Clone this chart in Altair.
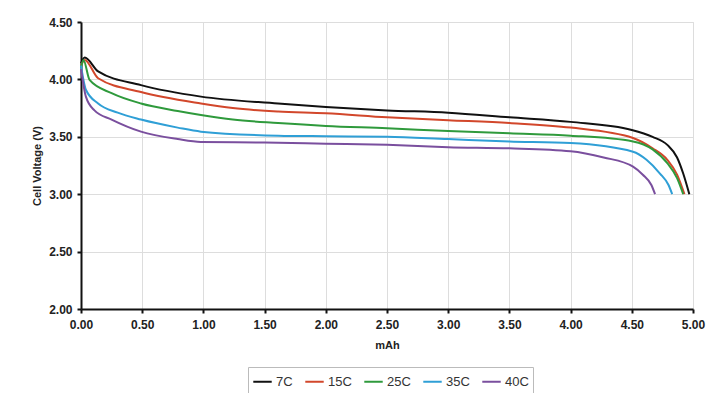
import altair as alt
import pandas as pd

series_names = ["7C", "15C", "25C", "35C", "40C"]
series_colors = ["#111111", "#d2472b", "#2f9a3c", "#2f9fd6", "#7a4f9e"]

x_7c = [0.00, 0.03, 0.14, 0.49, 0.98, 1.61, 2.00, 2.50, 3.00, 3.50, 4.00, 4.50, 4.67, 4.79, 4.87, 4.92, 4.97]
y_7c = [4.14, 4.19, 4.07, 3.95, 3.85, 3.79, 3.76, 3.73, 3.71, 3.67, 3.63, 3.56, 3.50, 3.43, 3.32, 3.18, 3.00]

x_15c = [0.00, 0.03, 0.14, 0.49, 0.98, 1.24, 1.61, 2.00, 2.50, 3.00, 3.50, 4.00, 4.51, 4.67, 4.79, 4.87, 4.93]
y_15c = [4.12, 4.17, 4.01, 3.89, 3.79, 3.75, 3.72, 3.705, 3.67, 3.645, 3.62, 3.58, 3.49, 3.40, 3.30, 3.17, 3.00]

x_25c = [0.00, 0.02, 0.07, 0.25, 0.49, 0.79, 0.98, 1.24, 1.61, 2.00, 2.50, 3.00, 3.50, 4.00, 4.51, 4.67, 4.79, 4.87, 4.92]
y_25c = [4.10, 4.17, 3.995, 3.88, 3.79, 3.725, 3.69, 3.65, 3.62, 3.595, 3.575, 3.55, 3.53, 3.51, 3.46, 3.39, 3.27, 3.14, 3.00]

x_35c = [0.00, 0.04, 0.14, 0.30, 0.49, 0.79, 0.98, 1.61, 2.00, 2.50, 3.00, 3.50, 4.00, 4.51, 4.62, 4.73, 4.80, 4.83]
y_35c = [4.12, 3.91, 3.79, 3.71, 3.65, 3.58, 3.545, 3.51, 3.505, 3.50, 3.48, 3.46, 3.445, 3.37, 3.30, 3.18, 3.08, 3.00]

x_40c = [0.00, 0.04, 0.11, 0.25, 0.49, 0.79, 0.98, 1.50, 2.00, 2.50, 3.00, 3.50, 4.00, 4.27, 4.51, 4.59, 4.66, 4.69]
y_40c = [4.09, 3.85, 3.73, 3.65, 3.545, 3.48, 3.455, 3.45, 3.44, 3.43, 3.41, 3.40, 3.375, 3.32, 3.24, 3.17, 3.08, 3.00]

x_ticks = [0.0, 0.5, 1.0, 1.5, 2.0, 2.5, 3.0, 3.5, 4.0, 4.5, 5.0]
y_ticks = [2.0, 2.5, 3.0, 3.5, 4.0, 4.5]

rows = []
for name, xs, ys in zip(series_names,
                        [x_7c, x_15c, x_25c, x_35c, x_40c],
                        [y_7c, y_15c, y_25c, y_35c, y_40c]):
    for i, (xv, yv) in enumerate(zip(xs, ys)):
        rows.append({"series": name, "x": xv, "y": yv, "order": i})
df = pd.DataFrame(rows)

chart = alt.Chart(df).mark_line(strokeWidth=2, interpolate="monotone").encode(
    x=alt.X("x:Q", title="mAh",
            scale=alt.Scale(domain=[0, 5], nice=False),
            axis=alt.Axis(values=x_ticks, format=".2f", grid=True, labelFlush=False,
                          labelFont="Liberation Sans", labelFontWeight="bold",
                          labelFontSize=12, labelColor="#222222",
                          titleFont="Liberation Sans", titleFontWeight="bold",
                          titleFontSize=11, titleColor="#222222",
                          titlePadding=9, labelPadding=6,
                          domainColor="#111111", domainWidth=2,
                          tickColor="#111111", tickSize=4, tickWidth=2)),
    y=alt.Y("y:Q", title="Cell Voltage (V)",
            scale=alt.Scale(domain=[2, 4.5], nice=False),
            axis=alt.Axis(values=y_ticks, format=".2f", grid=True, labelFlush=False,
                          labelFont="Liberation Sans", labelFontWeight="bold",
                          labelFontSize=12, labelColor="#222222",
                          titleFont="Liberation Sans", titleFontWeight="bold",
                          titleFontSize=11, titleColor="#222222",
                          titlePadding=6, labelPadding=5,
                          domainColor="#111111", domainWidth=2,
                          tickColor="#111111", tickSize=4, tickWidth=2)),
    color=alt.Color("series:N", sort=series_names,
                    scale=alt.Scale(domain=series_names, range=series_colors),
                    legend=alt.Legend(title=None, orient="none", direction="horizontal",
                                      legendX=167, legendY=345,
                                      symbolType="stroke", symbolStrokeWidth=2,
                                      symbolSize=340, labelFont="Liberation Sans",
                                      labelFontSize=13, labelColor="#333333",
                                      strokeColor="#bbbbbb", padding=4,
                                      columnPadding=8, labelOffset=3)),
    order="order:Q",
).properties(
    width=612, height=287,
    autosize=alt.AutoSizeParams(type="none"),
    padding={"left": 73, "top": 14, "right": 17, "bottom": 84},
).configure_axis(
    gridColor="#cfcfcf", gridWidth=1
).configure_view(
    stroke="#cfcfcf"
).configure(background="#ffffff")

chart.save("out.html", embed_options={"renderer": "svg", "actions": False})
